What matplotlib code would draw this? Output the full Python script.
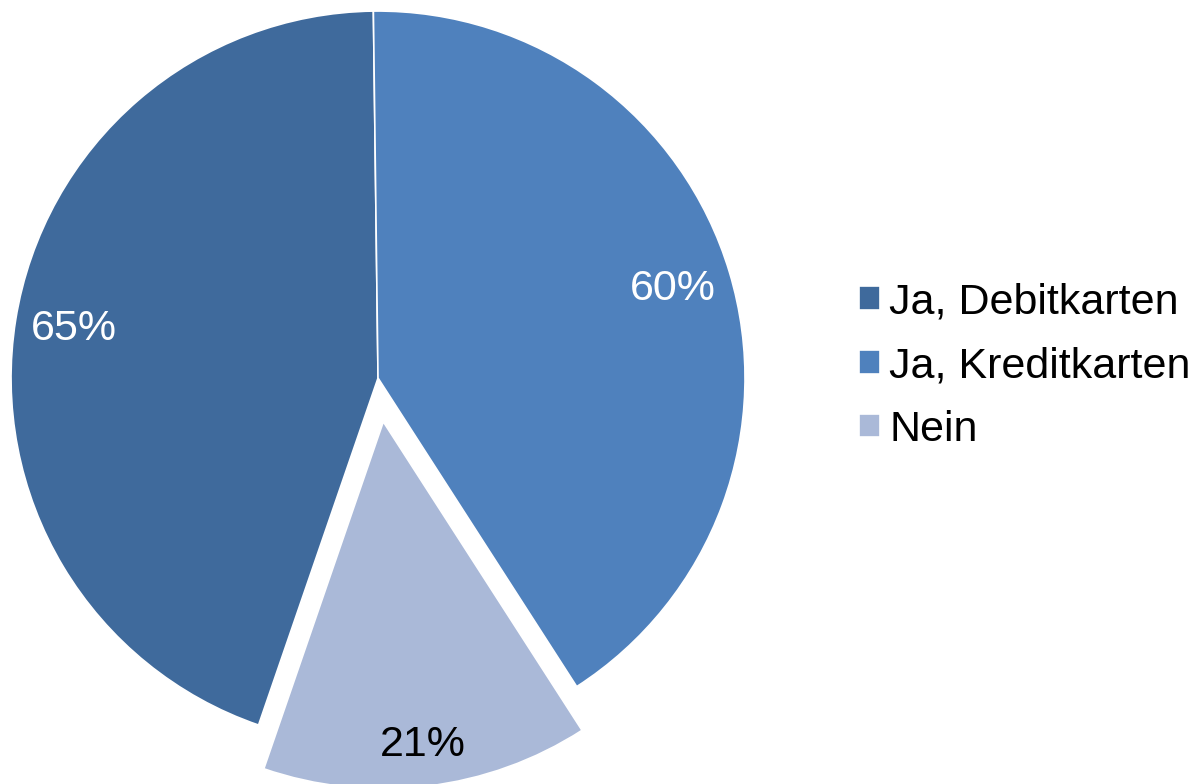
import matplotlib
matplotlib.use("Agg")
import matplotlib.pyplot as plt

plt.rcParams['font.family'] = ['Liberation Sans', 'DejaVu Sans']

labels = ['Ja, Debitkarten', 'Ja, Kreditkarten', 'Nein']
values = [65, 60, 21]
colors = ['#3F6A9C', '#4F81BD', '#AAB9D8']
label_colors = ['white', 'white', 'black']
explode = [0, 0, 0.12]

fig = plt.figure(figsize=(11.93, 7.84), dpi=100)
ax = fig.add_axes([0.00922, 0.0497, 0.6153, 0.9362])

wedges, texts, autotexts = ax.pie(
    values, colors=colors, explode=explode, startangle=251,
    counterclock=False, autopct='%1.0f%%', pctdistance=0.84,
    wedgeprops=dict(edgecolor='white', linewidth=1.2, clip_on=False),
    textprops=dict(fontsize=31))

# the shown percentages are the raw values, not shares of the total
for t, v, c in zip(autotexts, values, label_colors):
    t.set_text(f'{v}%')
    t.set_color(c)
    t.set_clip_on(False)

# small slice label sits a bit further out
x, y = autotexts[2].get_position()
autotexts[2].set_position((x * 1.05, y * 1.05))

ax.set_xlim(-1, 1)
ax.set_ylim(-1, 1)
ax.set_aspect('equal')
ax.axis('off')

fig.legend(wedges, labels, loc='center left',
           bbox_to_anchor=(0.72, 0.533), frameon=False, fontsize=31,
           handlelength=0.48, handleheight=0.48, handletextpad=0.22,
           labelspacing=0.55, borderpad=0, borderaxespad=0)

fig.savefig('out.png', dpi=100)
